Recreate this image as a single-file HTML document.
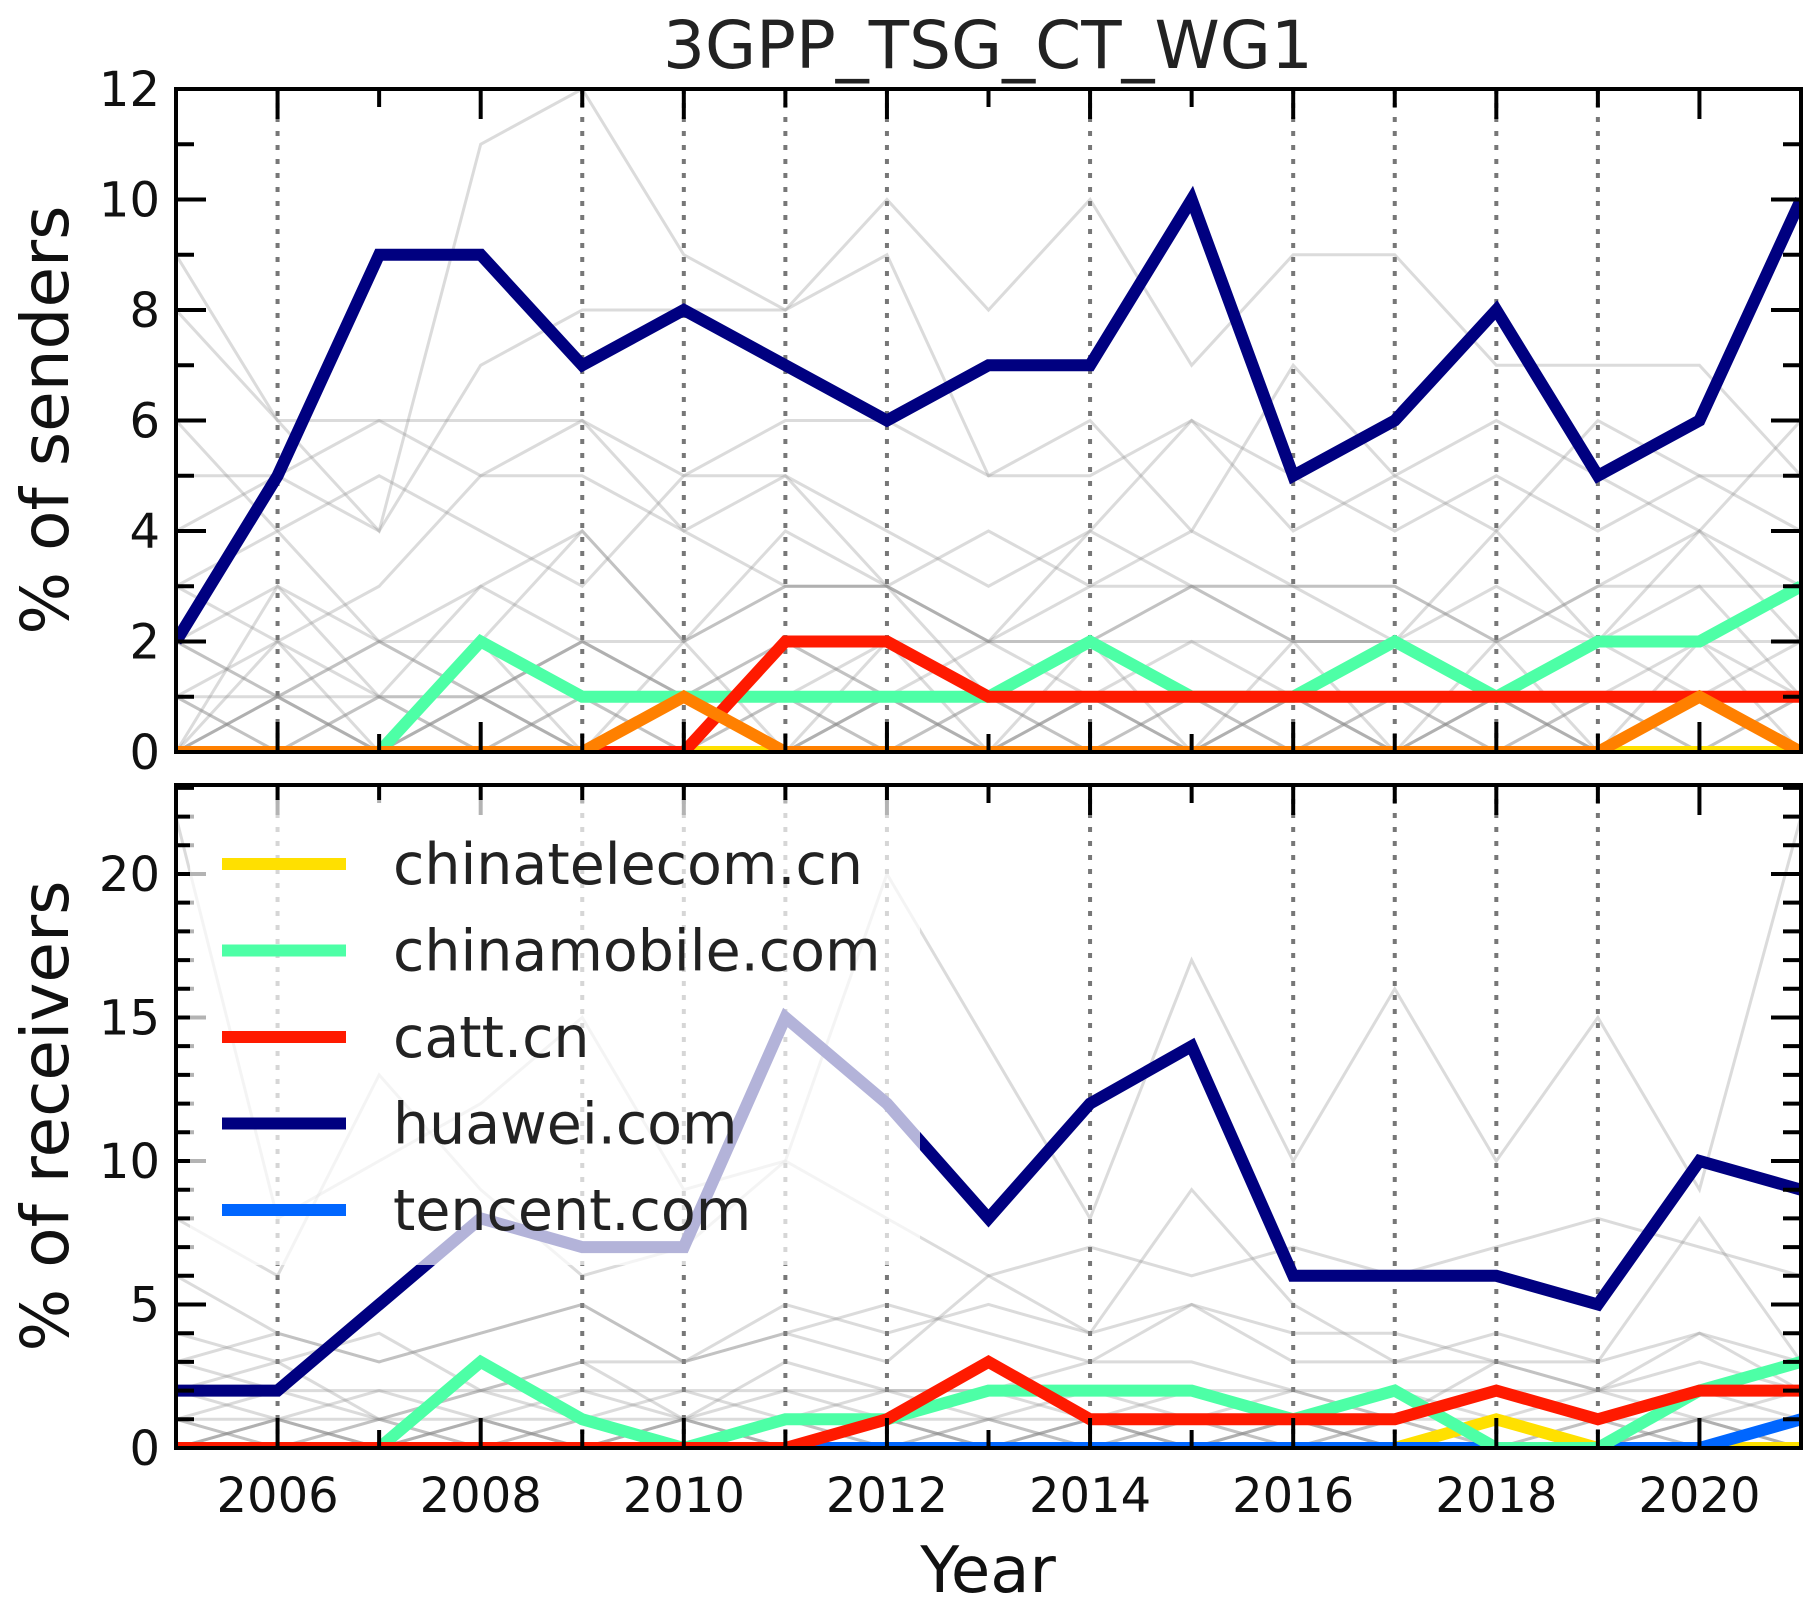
<!DOCTYPE html>
<html><head><meta charset="utf-8"><style>
html,body{margin:0;padding:0;background:#fff;}
svg{display:block;font-family:"DejaVu Sans","Liberation Sans",sans-serif;}
</style></head><body>
<svg id="chart" width="1818" height="1619" viewBox="0 0 1818 1619" xmlns="http://www.w3.org/2000/svg">
<text x="988" y="68" font-size="66" text-anchor="middle" fill="#222">3GPP_TSG_CT_WG1</text>
<text transform="translate(68,420) rotate(-90)" font-size="66" text-anchor="middle" fill="#111">% of senders</text>
<text transform="translate(68,1116) rotate(-90)" font-size="66" text-anchor="middle" fill="#111">% of receivers</text>
<text x="988" y="1592" font-size="64" text-anchor="middle" fill="#111">Year</text>
<g id="top"></g><g id="bot"></g>
</svg>
<script>
const years=[2005,2006,2007,2008,2009,2010,2011,2012,2013,2014,2015,2016,2017,2018,2019,2020,2021];
const dottedYears=[2006,2009,2010,2011,2012,2014,2016,2017,2018,2019];
const xTicks=[2006,2008,2010,2012,2014,2016,2018,2020];
const topTicks=[0,2,4,6,8,10,12];
const botTicks=[0,5,10,15,20];
// senders
const sHuawei=[2,5,9,9,7,8,7,6,7,7,10,5,6,8,5,6,10];
const sMobile=[0,0,0,2,1,1,1,1,1,2,1,1,2,1,2,2,3];
const sCatt=[0,0,0,0,0,0,2,2,1,1,1,1,1,1,1,1,1];
const sOrange=[0,0,0,0,0,1,0,0,0,0,0,0,0,0,0,1,0];
const sTelecom=[0,0,0,0,0,0,0,0,0,0,0,0,0,0,0,0,0];
const sTencent=[0,0,0,0,0,0,0,0,0,0,0,0,0,0,0,0,0];
// receivers
const rHuawei=[2,2,5,8,7,7,15,12,8,12,14,6,6,6,5,10,9];
const rMobile=[0,0,0,3,1,0,1,1,2,2,2,1,2,0,0,2,3];
const rCatt=[0,0,0,0,0,0,0,1,3,1,1,1,1,2,1,2,2];
const rOrange=[0,0,0,0,0,0,0,0,0,0,0,0,0,0,0,0,0];
const rTelecom=[0,0,0,0,0,0,0,0,0,0,0,0,0,1,0,0,0];
const rTencent=[0,0,0,0,0,0,0,0,0,0,0,0,0,0,0,0,1];
// background (other domains)
const sBg=[
[9,6,6,5,5,4,3,3,2,3,3,2,2,1,1,1,1],[8,6,4,11,12,9,8,10,8,10,7,9,9,7,7,7,5],
[4,5,4,7,8,8,8,9,5,5,6,4,5,4,6,5,4],[3,2,3,5,6,5,5,3,4,3,4,3,3,2,3,4,3],
[2,1,2,1,2,1,1,2,2,2,2,2,2,2,2,2,2],[1,1,1,1,1,1,1,1,1,1,1,1,1,1,1,1,1],
[0,3,1,3,4,2,4,3,1,2,3,3,2,4,2,4,2],[1,0,1,0,1,0,1,0,1,0,1,0,1,0,1,0,1],
[0,1,0,1,0,1,0,1,0,1,0,1,0,1,0,1,0],[2,3,2,3,2,2,3,3,2,2,3,3,3,2,3,3,3],
[5,5,6,6,6,4,5,4,3,4,6,5,4,5,4,5,5],[3,4,2,2,4,2,3,3,2,4,3,2,2,3,2,3,1],
[0,2,0,2,0,2,0,2,0,2,0,2,0,2,0,2,0],[6,4,5,4,3,5,6,6,5,6,4,7,5,6,5,4,6],
[1,0,1,0,1,0,1,0,1,0,1,0,1,0,1,0,1],[0,1,0,1,0,1,0,1,0,1,0,1,0,1,0,1,0],
[2,1,0,1,2,1,0,1,2,1,0,1,2,1,0,1,2],[0,1,2,1,0,1,2,1,0,1,2,1,0,1,2,1,0],
[1,2,1,1,2,1,2,1,1,2,1,1,2,1,1,2,1]];
const rBg=[
[22,8,10,12,15,9,10,20,14,8,17,10,16,10,15,9,22],[6,4,3,4,5,3,4,5,4,3,5,4,4,3,3,4,3],
[3,2,2,2,2,2,2,2,2,2,2,2,2,2,2,2,2],[1,1,1,1,1,1,1,1,1,1,1,1,1,1,1,1,1],
[0,1,0,1,0,1,0,1,0,1,0,1,0,1,0,1,0],[1,0,1,0,1,0,1,0,1,0,1,0,1,0,1,0,1],
[4,3,4,2,3,3,4,3,6,4,9,5,3,4,3,8,3],[2,3,1,2,3,1,3,2,2,3,3,2,1,3,2,4,2],
[8,6,13,9,6,7,10,8,6,7,6,7,6,7,8,7,6],[3,4,3,4,5,3,5,4,5,4,5,3,3,3,2,3,2],
[0,1,0,1,0,1,0,1,0,1,0,1,0,1,0,1,0],[1,0,1,0,1,0,1,0,1,0,1,0,1,0,1,0,1],
[2,1,0,1,2,1,0,1,2,1,0,1,2,1,0,1,2],[0,1,2,1,0,1,2,1,0,1,2,1,0,1,2,1,0],
[1,2,1,2,1,2,1,2,1,2,1,2,1,2,1,2,1]];
const NS="http://www.w3.org/2000/svg";
const X0=176,X1=1801;
const xs=y=>X0+(y-2005)*(X1-X0)/16;
function mk(tag,attrs,parent){const e=document.createElementNS(NS,tag);for(const k in attrs)e.setAttribute(k,attrs[k]);parent.appendChild(e);return e;}
function panel(g,top,bot,ymax,ticks,minorStep,bg,series,legend){
  const ys=v=>bot-v*(bot-top)/ymax;
  const clipId=g.id+"clip";
  const defs=mk("defs",{},g);const cp=mk("clipPath",{id:clipId},defs);mk("rect",{x:X0,y:top,width:X1-X0,height:bot-top},cp);
  const pg=mk("g",{"clip-path":"url(#"+clipId+")"},g);
  dottedYears.forEach(yr=>{const l=mk("line",{x1:xs(yr),x2:xs(yr),y1:top,y2:bot,stroke:"#777","stroke-width":4,"stroke-dasharray":"5,9"},pg);
    
    });
  bg.forEach(arr=>{const p=mk("polyline",{points:arr.map((v,i)=>xs(years[i])+","+ys(v)).join(" "),fill:"none",stroke:"#888","stroke-opacity":0.3,"stroke-width":3},pg);
    
    });
  series.forEach(s=>{const p=mk("polyline",{points:s.d.map((v,i)=>xs(years[i])+","+ys(v)).join(" "),fill:"none",stroke:s.c,"stroke-width":12,"stroke-linejoin":"miter"},pg);
    
    });
  const tg=mk("g",{stroke:"#000","stroke-width":4},g);
  for(let yr=2005;yr<=2021;yr++){const major=yr%2===0;const L=major?30:18;
    mk("line",{x1:xs(yr),x2:xs(yr),y1:bot,y2:bot-L},tg);mk("line",{x1:xs(yr),x2:xs(yr),y1:top,y2:top+L},tg);}
  for(let v=0;v<=ymax;v+=minorStep){const major=ticks.includes(v);const L=major?30:18;
    mk("line",{x1:X0,x2:X0+L,y1:ys(v),y2:ys(v)},tg);mk("line",{x1:X1,x2:X1-L,y1:ys(v),y2:ys(v)},tg);}
  ticks.forEach(v=>{const t=mk("text",{x:160,y:ys(v)+17,"font-size":48,"text-anchor":"end",fill:"#111"},g);t.textContent=v;
    
    });
  if(legend){
    const lg=mk("g",{},g);
    
    
    mk("rect",{x:190,y:800,width:730,height:465,fill:"#fff","fill-opacity":0.7},lg);
    legend.forEach((s,i)=>{const cy=864+i*86.5;
      mk("line",{x1:222,x2:346,y1:cy,y2:cy,stroke:s.c,"stroke-width":12},lg);
      const t=mk("text",{x:393,y:cy+20,"font-size":57,fill:"#222"},lg);t.textContent=s.n;
      
      });
  }
  const fr=mk("rect",{x:X0,y:top,width:X1-X0,height:bot-top,fill:"none",stroke:"#000","stroke-width":4},g);
  
  
}
const C={tel:"#ffe000",mob:"#4dffa6",catt:"#ff1a00",hua:"#000080",ten:"#0066ff",or:"#ff8000"};
const topG=document.getElementById("top");


panel(topG,89,752,12,topTicks,1,sBg,[
 {n:"tencent",c:C.ten,d:sTencent},{n:"chinatelecom",c:C.tel,d:sTelecom},{n:"huawei",c:C.hua,d:sHuawei},
 {n:"chinamobile",c:C.mob,d:sMobile},{n:"catt",c:C.catt,d:sCatt},{n:"orange-domain",c:C.or,d:sOrange}],null);
const botG=document.getElementById("bot");


panel(botG,785,1448,23.1,botTicks,1,rBg,[
 {n:"orange-domain",c:C.or,d:rOrange},{n:"chinatelecom",c:C.tel,d:rTelecom},{n:"tencent",c:C.ten,d:rTencent},
 {n:"huawei",c:C.hua,d:rHuawei},{n:"chinamobile",c:C.mob,d:rMobile},{n:"catt",c:C.catt,d:rCatt}],
 [{n:"chinatelecom.cn",c:C.tel},{n:"chinamobile.com",c:C.mob},{n:"catt.cn",c:C.catt},{n:"huawei.com",c:C.hua},{n:"tencent.com",c:C.ten}]);
xTicks.forEach(yr=>{const t=mk("text",{x:xs(yr),y:1512,"font-size":48,"text-anchor":"middle",fill:"#111"},document.getElementById("chart"));t.textContent=yr;
  
  });
</script>
</body></html>
